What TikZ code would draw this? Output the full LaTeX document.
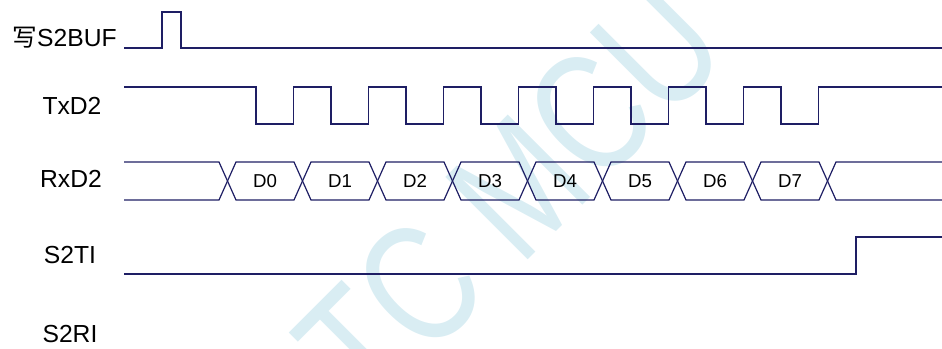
\documentclass[tikz,border=0pt]{standalone}
\usepackage{fontspec}
\setmainfont{Liberation Sans}
\newfontfamily\cjk{Noto Sans CJK SC}
\usepackage{tikz}
\usetikzlibrary{positioning}
\definecolor{wave}{HTML}{1E1E64}
\definecolor{stcmark}{HTML}{D9EDF3}

\begin{document}
\begin{tikzpicture}[
  x=0.75pt,y=-0.75pt,
  sig/.style={draw=wave,line width=0.9pt,line join=miter},
  lbl/.style={font=\fontsize{18.5}{22}\selectfont,anchor=base,inner sep=0pt},
  bit/.style={font=\fontsize{14}{16}\selectfont,inner sep=0pt}
]
\useasboundingbox (0,0) rectangle (942,349);
% watermark
\begin{scope}
\clip (0,0) rectangle (942,349);
\node[rotate=45,text=stcmark,inner sep=0pt,font=\fontsize{127}{127}\selectfont] (mark) at (479,226) {\scalebox{0.78}[1]{STC MCU}};
\end{scope}
% signal names
\node[lbl,anchor=base east] (wbuf) at (117,47) {{\cjk 写}S2BUF};
\node[lbl] (txd) at (72,115) {TxD2};
\node[lbl] (rxd) at (71,188) {RxD2};
\node[lbl] (sti) at (70,263) {S2TI};
\node[lbl] (sri) at (70,342) {S2RI};
% waveforms
\draw[sig] (124,48) -- (162,48) -- (162,12) -- (181,12) -- (181,48) -- (942,48);
\draw[sig] (124,87) foreach \i in {0,...,7} {
  -- ({256+75*\i},87) -- ({256+75*\i},124) -- ({293.5+75*\i},124) -- ({293.5+75*\i},87)
} -- (942,87);
\draw[sig] (124,162) -- (219,162) -- (227.5,181) -- (219,200) -- (124,200);
\foreach \k in {0,...,7}
  \draw[sig] ({227.5+75*\k},181) -- ({236+75*\k},162) -- ({294+75*\k},162) -- ({302.5+75*\k},181)
    -- ({294+75*\k},200) -- ({236+75*\k},200) -- cycle
    node[bit] (d\k) at ({265+75*\k},181) {D\k};
\draw[sig] (942,162) -- (836,162) -- (827.5,181) -- (836,200) -- (942,200);
\draw[sig] (124,274) -- (856,274) -- (856,237) -- (942,237);
\end{tikzpicture}
\end{document}
